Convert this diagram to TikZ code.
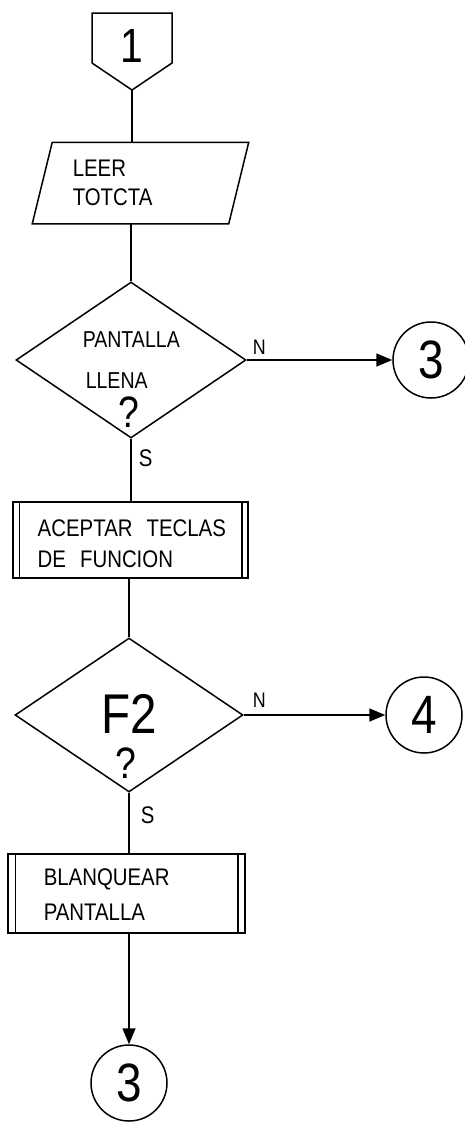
\documentclass[tikz,border=0pt]{standalone}
\usepackage{fontspec}
\setmainfont{Liberation Sans}
\newfontfamily\hand[FakeStretch=0.85]{Liberation Sans}
\usetikzlibrary{shapes.geometric,arrows.meta,calc}
\begin{document}
\begin{tikzpicture}[x=1pt,y=-1pt,line width=1.5pt,
  decision/.style={diamond,draw,inner sep=0pt},
  procbox/.style={rectangle,draw,inner sep=0pt},
  conn/.style={circle,draw,minimum size=76pt,inner sep=0pt,font=\hand\fontsize{54}{54}\selectfont},
  txt/.style={anchor=base west,inner sep=0pt,font=\hand\fontsize{24}{24}\selectfont},
  lbl/.style={anchor=base west,inner sep=0pt,font=\hand\fontsize{21}{21}\selectfont},
  slbl/.style={anchor=base west,inner sep=0pt,font=\hand\fontsize{24}{24}\selectfont},
  qmark/.style={inner sep=0pt,font=\hand\fontsize{44}{44}\selectfont},
  arrow/.style={-{Triangle[length=16pt,width=13pt]}}]
\useasboundingbox (0,0) rectangle (465,1122);
% off-page connector 1
\coordinate (p1) at (132,90);
\draw (92,13) -- (172,13) -- (172,63) -- (p1) -- (92,63) -- cycle;
\node[inner sep=0pt,font=\hand\fontsize{48}{48}\selectfont] (t1) at (132,46) {1};
% input parallelogram
\node[inner sep=0pt,minimum width=195pt,minimum height=80pt] (par) at (140.5,183) {};
\draw ($(par.south west)+(-10,0)$) -- ($(par.north west)+(10,0)$)
   -- ($(par.north east)+(10,0)$) -- ($(par.south east)+(-10,0)$) -- cycle;
\node[txt] (l1) at (72,176) {LEER};
\node[txt] (l2) at (72,205) {TOTCTA};
\draw (p1) -- (p1 |- par.north);
% decision 1
\node[decision,minimum width=230pt,minimum height=156pt] (d1) at (131,360) {};
\draw (d1.north |- par.south) -- (d1.north);
\node[txt,font=\hand\fontsize{23}{23}\selectfont] (q1a) at (82,347) {PANTALLA};
\node[txt,font=\hand\fontsize{23}{23}\selectfont] (q1b) at (85,388) {LLENA};
\node[qmark] (q1c) at (129,412) {?};
\node[conn] (c3a) at (431,360) {3};
\draw[arrow] (d1.east) -- (c3a.west);
\node[lbl] (n1) at (252,354) {N};
\node[slbl] (s1) at (138,466) {S};
% process 2
\node[procbox,minimum width=235pt,minimum height=76pt] (b2) at (130.5,540) {};
\draw ([xshift=7pt]b2.north west) -- ([xshift=7pt]b2.south west);
\draw ([xshift=-7pt]b2.north east) -- ([xshift=-7pt]b2.south east);
\draw (d1.south) -- (d1.south |- b2.north);
\node[txt] (a1) at (37,536) {ACEPTAR\hspace{14pt}TECLAS};
\node[txt] (a2) at (37,567) {DE\hspace{14pt}FUNCION};
% decision 2
\node[decision,minimum width=228pt,minimum height=154pt] (d2) at (129,715) {};
\draw (d2.north |- b2.south) -- (d2.north);
\node[anchor=base,inner sep=0pt,font=\hand\fontsize{56}{56}\selectfont] (f2) at (129,733) {F2};
\node[qmark] (q2) at (126,763) {?};
\node[conn] (c4) at (424,715) {4};
\draw[arrow] (d2.east) -- (c4.west);
\node[lbl] (n2) at (252,707) {N};
\node[slbl] (s2) at (140,823) {S};
% process 3
\node[procbox,minimum width=237pt,minimum height=79pt] (b3) at (126.5,893.5) {};
\draw ([xshift=8pt]b3.north west) -- ([xshift=8pt]b3.south west);
\draw ([xshift=-8pt]b3.north east) -- ([xshift=-8pt]b3.south east);
\draw (d2.south) -- (d2.south |- b3.north);
\node[txt] (b3a) at (43,885) {BLANQUEAR};
\node[txt] (b3b) at (43,920) {PANTALLA};
% final connector
\node[conn] (c3b) at (129,1083) {3};
\draw[arrow] (c3b.north |- b3.south) -- (c3b.north);
\end{tikzpicture}
\end{document}
